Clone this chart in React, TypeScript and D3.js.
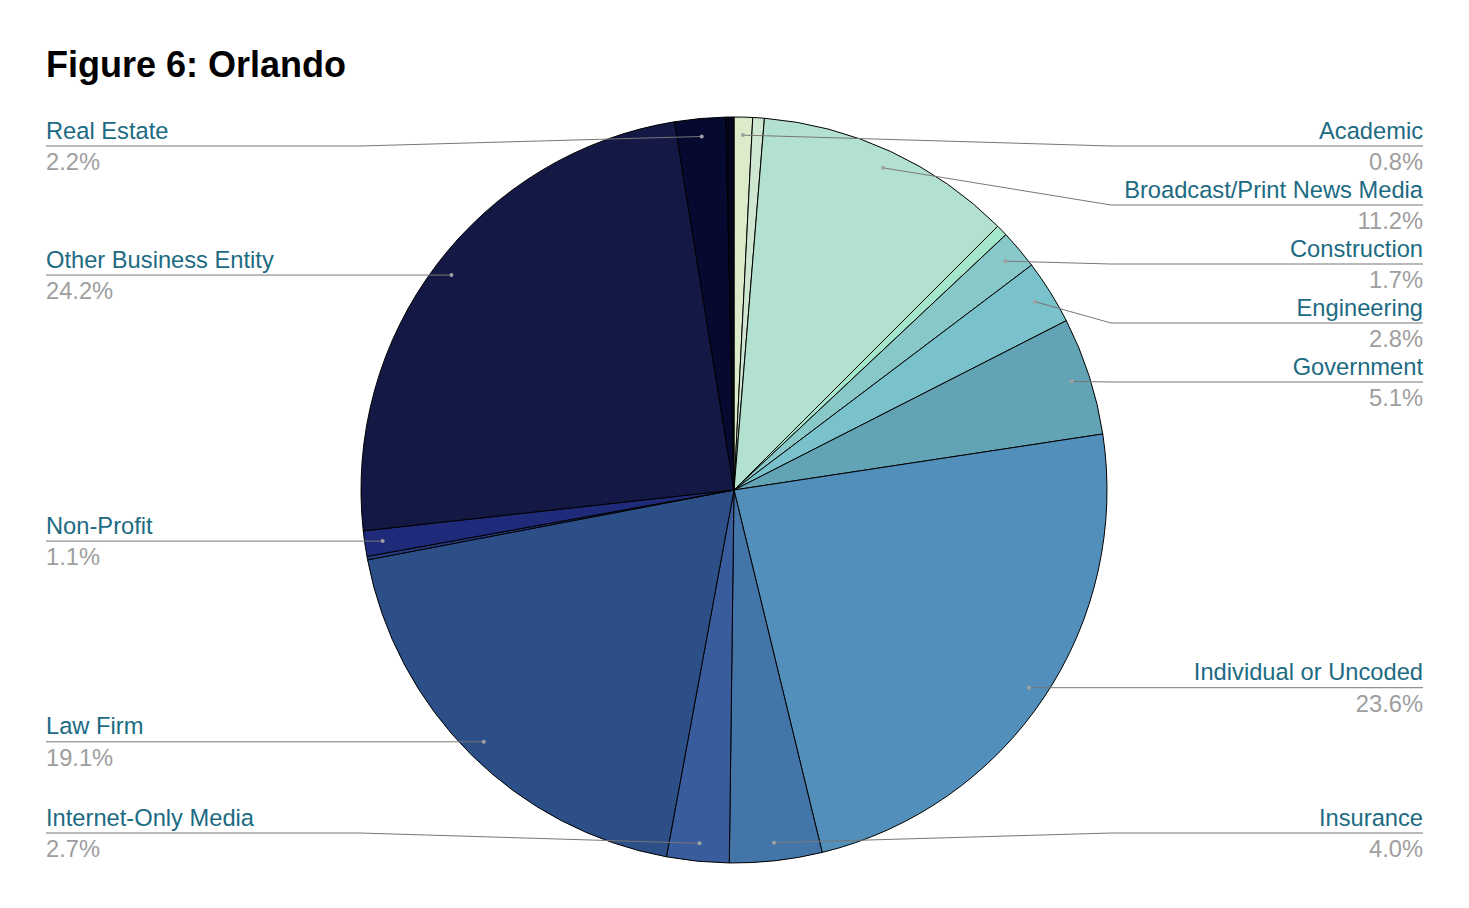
import React from "react";
import * as d3 from "d3";

const title = "Figure 6: Orlando";
const categories = [
  "Academic",
  "Unlabeled A",
  "Broadcast/Print News Media",
  "Unlabeled B",
  "Construction",
  "Engineering",
  "Government",
  "Individual or Uncoded",
  "Insurance",
  "Internet-Only Media",
  "Law Firm",
  "Unlabeled C",
  "Non-Profit",
  "Other Business Entity",
  "Real Estate",
  "Unlabeled D",
];
const values = [0.8, 0.5, 11.2, 0.5, 1.7, 2.8, 5.1, 23.6, 4.0, 2.7, 19.1, 0.15, 1.1, 24.2, 2.2, 0.35];
const showLabel = [true, false, true, false, true, true, true, true, true, true, true, false, true, true, true, false];
const colors = [
  "#dcebc9",
  "#cfe6d1",
  "#b3e1cf",
  "#a3e6cb",
  "#89c8c8",
  "#79c1cb",
  "#62a4b6",
  "#528fba",
  "#4375a8",
  "#385c9c",
  "#2d4f88",
  "#25397f",
  "#1f2a7a",
  "#141845",
  "#060a31",
  "#03061a",
];

const W = 1469;
const H = 908;
const cx = 734;
const cy = 490;
const R = 373;
const dotR = 355;
const labelTop = 146;
const labelBottom = 833;
const labelGap = 59;
const leftX = 46;
const rightX = 1423;

export default function App() {
  const data = categories.map((c, i) => ({ name: c, value: values[i], color: colors[i], show: showLabel[i] }));
  const total = d3.sum(values);
  const pie = d3
    .pie<any>()
    .sort(null)
    .value((d: any) => d.value)
    .startAngle(0)
    .endAngle(2 * Math.PI);
  const arcs = pie(data);
  const arc = d3.arc<any>().innerRadius(0).outerRadius(R);
  const dotArc = d3.arc<any>().innerRadius(dotR).outerRadius(dotR);

  const labels = arcs
    .filter((a) => a.data.show)
    .map((a) => {
      const [x, y] = dotArc.centroid(a);
      const mid = (a.startAngle + a.endAngle) / 2;
      return { a, dx: x + cx, dy: y + cy, side: mid > Math.PI ? "left" : "right", ly: y + cy };
    });

  const layout = (list: any[]) => {
    list.sort((p, q) => p.dy - q.dy);
    let prev = -Infinity;
    list.forEach((l) => {
      l.ly = Math.max(l.dy, prev + labelGap, labelTop);
      prev = l.ly;
    });
    let next = Infinity;
    for (let i = list.length - 1; i >= 0; i--) {
      list[i].ly = Math.min(list[i].ly, next - labelGap, labelBottom);
      next = list[i].ly;
    }
  };
  layout(labels.filter((l) => l.side === "right"));
  layout(labels.filter((l) => l.side === "left"));

  const font = "'Liberation Sans', Arial, sans-serif";

  return (
    <svg width={W} height={H} style={{ position: "absolute", left: 0, top: 0, background: "#fff" }}>
      <rect width={W} height={H} fill="#fff" />
      <text x={46} y={77} fontFamily={font} fontWeight="bold" fontSize={36} fill="#000">
        {title}
      </text>
      <g transform={`translate(${cx},${cy})`}>
        {arcs.map((a, i) => (
          <path key={i} d={arc(a) as string} fill={a.data.color} stroke="#000" strokeWidth={1} strokeLinejoin="round" />
        ))}
      </g>
      {labels.map((l, i) => {
        const isLeft = l.side === "left";
        const bendX = isLeft ? cx - R - 1 : cx + R + 4;
        const endX = isLeft ? leftX : rightX;
        const pct = ((l.a.data.value / total) * 100).toFixed(1) + "%";
        return (
          <g key={i}>
            <polyline
              points={`${l.dx},${l.dy} ${bendX},${l.ly} ${endX},${l.ly}`}
              fill="none"
              stroke="#777"
              strokeWidth={1}
            />
            <circle cx={l.dx} cy={l.dy} r={2} fill="#a0a0a0" />
            <text
              x={endX}
              y={l.ly - 7.5}
              textAnchor={isLeft ? "start" : "end"}
              fontFamily={font}
              fontSize={23.7}
              fill="#1c6b83"
            >
              {l.a.data.name}
            </text>
            <text
              x={endX}
              y={l.ly + 24}
              textAnchor={isLeft ? "start" : "end"}
              fontFamily={font}
              fontSize={23.7}
              fill="#9e9e9e"
            >
              {pct}
            </text>
          </g>
        );
      })}
    </svg>
  );
}
